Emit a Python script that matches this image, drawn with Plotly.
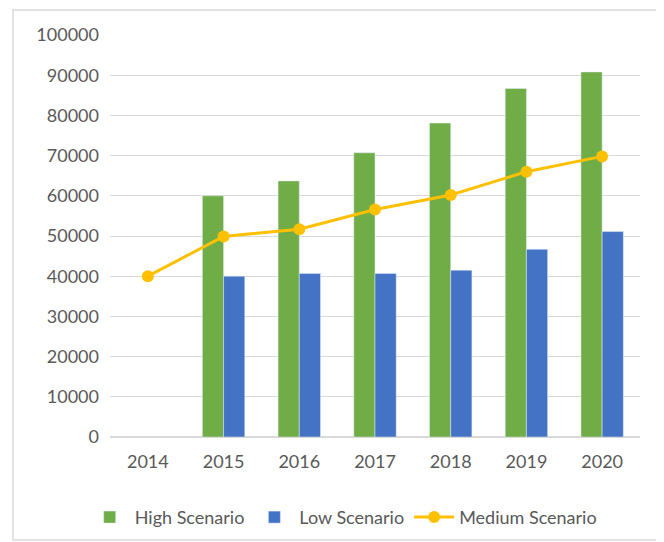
import plotly.graph_objects as go

years = ["2014", "2015", "2016", "2017", "2018", "2019", "2020"]
high = [None, 60000, 63700, 70700, 78100, 86700, 90800]
low = [None, 40000, 40700, 40700, 41500, 46700, 51100]
medium = [40000, 49900, 51700, 56600, 60200, 66000, 69800]
y_ticks = list(range(0, 100001, 10000))

GREEN = "#70AD47"
BLUE = "#4472C4"
GOLD = "#FFC000"
TEXT = "#595959"
GRID = "#D9D9D9"
FONT = "Lato, Open Sans, sans-serif"

fig = go.Figure()
fig.add_trace(go.Bar(x=years, y=high, name="High Scenario", marker_color=GREEN))
fig.add_trace(go.Bar(x=years, y=low, name="Low Scenario", marker_color=BLUE))
fig.add_trace(go.Scatter(x=years, y=medium, name="Medium Scenario", mode="lines+markers",
                         line=dict(color=GOLD, width=3),
                         marker=dict(color=GOLD, size=12)))

fig.update_layout(
    width=656, height=534,
    margin=dict(l=102, r=24, t=27, b=105, autoexpand=False),
    paper_bgcolor="white", plot_bgcolor="white",
    font=dict(family=FONT, size=18, color=TEXT),
    barmode="group", bargap=0.44, bargroupgap=0,
    showlegend=True,
    legend=dict(orientation="h", x=0.44, xanchor="center", y=-0.2, yanchor="middle",
                font=dict(size=18, color=TEXT), itemwidth=40, tracegroupgap=0),
    shapes=[dict(type="rect", xref="paper", yref="paper",
                 x0=-0.183, x1=1.045, y0=-0.256, y1=1.062,
                 line=dict(color=GRID, width=1.5), layer="below")],
)
fig.update_yaxes(range=[0, 100000], tickvals=y_ticks, tickformat="d",
                 showgrid=True, gridcolor=GRID, gridwidth=1,
                 zeroline=True, zerolinecolor=GRID, zerolinewidth=1.5,
                 showline=False, ticks="", ticklabelstandoff=10, automargin=False)
fig.update_xaxes(showgrid=False, showline=False, ticks="", ticklabelstandoff=12,
                 automargin=False)

fig.write_html("out.html")
